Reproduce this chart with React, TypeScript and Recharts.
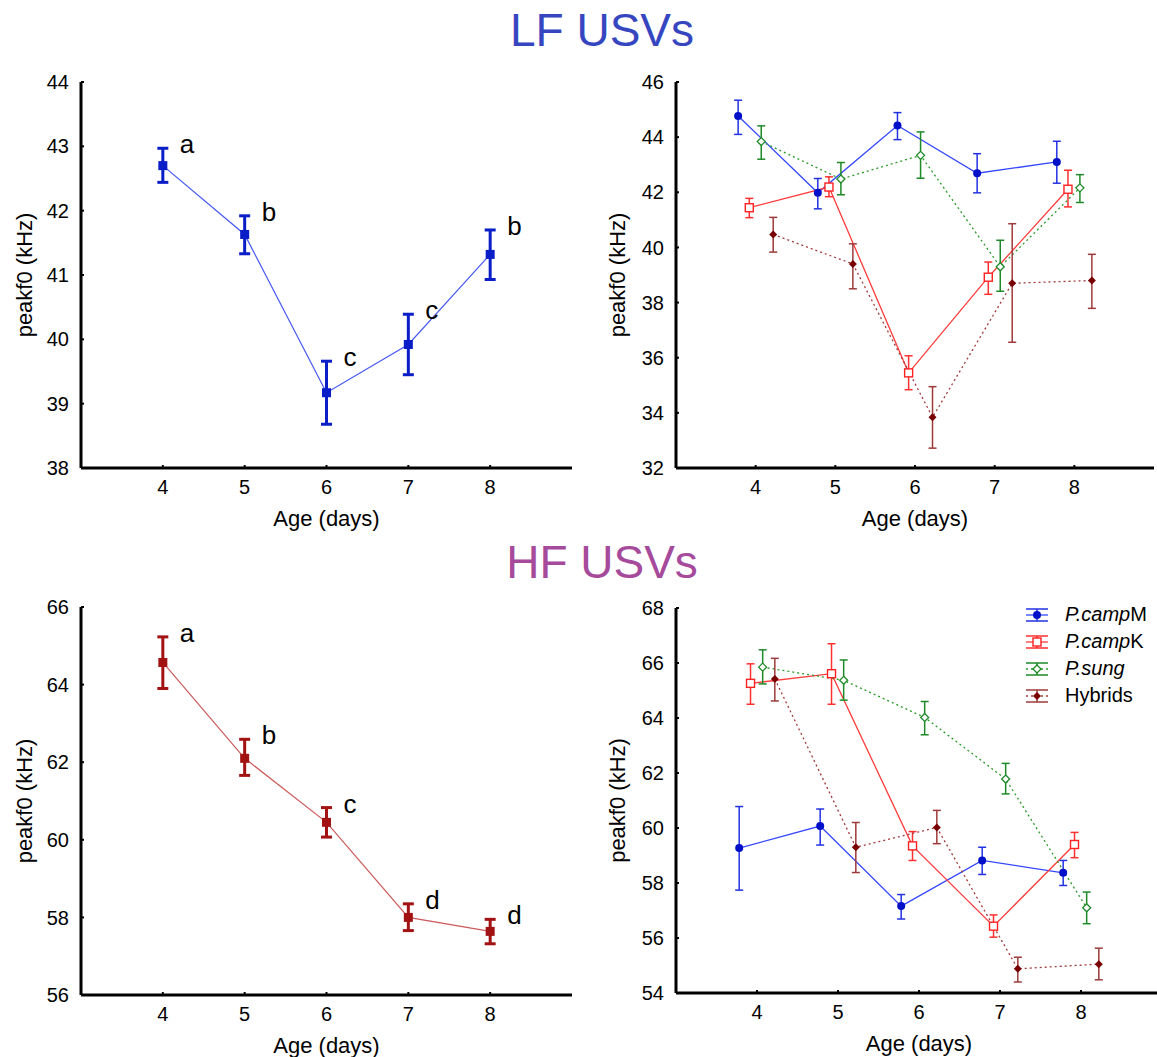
import React from "react";
import { LineChart, Line, XAxis, YAxis, ErrorBar, LabelList, Legend } from "recharts";

const FONT = "Arial, 'Liberation Sans', Helvetica, sans-serif";

// ages (days) and axis ticks
const ages = [4, 5, 6, 7, 8];
const lfTicks = [38, 39, 40, 41, 42, 43, 44];
const lfGroupTicks = [32, 34, 36, 38, 40, 42, 44, 46];
const hfTicks = [56, 58, 60, 62, 64, 66];
const hfGroupTicks = [54, 56, 58, 60, 62, 64, 66, 68];

// LF USVs, all pups pooled
const lfMean = [42.7, 41.63, 39.17, 39.92, 41.32];
const lfHi = [42.97, 41.92, 39.66, 40.39, 41.7];
const lfLo = [42.44, 41.33, 38.68, 39.45, 40.93];
const lfLetters = ["a", "b", "c", "c", "b"];

// HF USVs, all pups pooled
const hfMean = [64.57, 62.1, 60.45, 58.0, 57.64];
const hfHi = [65.23, 62.59, 60.83, 58.35, 57.95];
const hfLo = [63.9, 61.66, 60.07, 57.66, 57.32];
const hfLetters = ["a", "b", "c", "d", "d"];

// LF USVs by group
const lfCampMMean = [44.77, 41.98, 44.42, 42.69, 43.1];
const lfCampMHi = [45.34, 42.5, 44.89, 43.4, 43.85];
const lfCampMLo = [44.1, 41.4, 43.91, 41.98, 42.33];
const lfCampKMean = [41.44, 42.19, 35.45, 38.92, 42.11];
const lfCampKHi = [41.78, 42.56, 36.07, 39.47, 42.8];
const lfCampKLo = [41.08, 41.84, 34.84, 38.3, 41.47];
const lfSungMean = [43.84, 42.48, 43.34, 39.3, 42.16];
const lfSungHi = [44.41, 43.08, 44.19, 40.26, 42.64];
const lfSungLo = [43.2, 41.91, 42.51, 38.41, 41.63];
const lfHybMean = [40.47, 39.4, 33.84, 38.7, 38.8];
const lfHybHi = [41.09, 40.13, 34.95, 40.86, 39.75];
const lfHybLo = [39.83, 38.5, 32.72, 36.56, 37.79];

// HF USVs by group
const hfCampMMean = [59.27, 60.07, 57.16, 58.82, 58.37];
const hfCampMHi = [60.78, 60.69, 57.58, 59.3, 58.82];
const hfCampMLo = [57.74, 59.38, 56.69, 58.31, 57.91];
const hfCampKMean = [65.26, 65.61, 59.35, 56.43, 59.4];
const hfCampKHi = [65.97, 66.7, 59.87, 56.84, 59.84];
const hfCampKLo = [64.5, 64.5, 58.82, 56.03, 58.92];
const hfSungMean = [65.85, 65.37, 64.02, 61.78, 57.1];
const hfSungHi = [66.48, 66.11, 64.6, 62.35, 57.67];
const hfSungLo = [65.24, 64.65, 63.39, 61.24, 56.52];
const hfHybMean = [65.42, 59.3, 60.02, 54.88, 55.05];
const hfHybHi = [66.17, 60.2, 60.64, 55.3, 55.63];
const hfHybLo = [64.62, 58.38, 59.43, 54.4, 54.48];

// horizontal dodge of each group around the age value
const dodge = { campM: -0.22, campK: -0.08, sung: 0.07, hyb: 0.22 };

type Pt = { x: number; y: number; err: [number, number]; hi: number; letter?: string };

function points(mean: number[], hi: number[], lo: number[], shift = 0, letters?: string[]): Pt[] {
  return ages.map((a, i) => ({
    x: a + shift,
    y: mean[i],
    err: [mean[i] - lo[i], hi[i] - mean[i]],
    hi: hi[i],
    letter: letters ? letters[i] : undefined,
  }));
}

type Kind = "square" | "circle" | "openSquare" | "openDiamond" | "diamond";

function Marker({ cx, cy, kind, color, size }: { cx: number; cy: number; kind: Kind; color: string; size: number }) {
  const h = size / 2;
  if (cx == null || cy == null) return null;
  switch (kind) {
    case "square":
      return <rect x={cx - h} y={cy - h} width={size} height={size} fill={color} />;
    case "openSquare":
      return <rect x={cx - h} y={cy - h} width={size} height={size} fill="#fff" stroke={color} strokeWidth={1.4} />;
    case "circle":
      return <circle cx={cx} cy={cy} r={h} fill={color} />;
    case "openDiamond":
      return (
        <polygon
          points={`${cx},${cy - h} ${cx + h},${cy} ${cx},${cy + h} ${cx - h},${cy}`}
          fill="#fff"
          stroke={color}
          strokeWidth={1.3}
        />
      );
    default:
      return <polygon points={`${cx},${cy - h} ${cx + h},${cy} ${cx},${cy + h} ${cx - h},${cy}`} fill={color} />;
  }
}

type SeriesDef = {
  id: string;
  label?: React.ReactNode;
  points: Pt[];
  line: string;
  mark: string;
  err: string;
  kind: Kind;
  size: number;
  lineWidth: number;
  dash?: string;
  errWidth: number;
  cap: number;
};

const lfBlue = { line: "#4658f2", mark: "#0a1ec8", err: "#0a1ec8", kind: "square" as Kind, size: 9, lineWidth: 1.2, errWidth: 3, cap: 5.5 };
const hfRed = { line: "#cc5a5a", mark: "#a31212", err: "#a31212", kind: "square" as Kind, size: 9, lineWidth: 1.2, errWidth: 3, cap: 5.5 };

const campMStyle = { line: "#3548ff", mark: "#0010c8", err: "#2232e2", kind: "circle" as Kind, size: 8, lineWidth: 1.3, errWidth: 1.5, cap: 4 };
const campKStyle = { line: "#ff3b3b", mark: "#ff2020", err: "#ff3030", kind: "openSquare" as Kind, size: 8, lineWidth: 1.3, errWidth: 1.5, cap: 4 };
const sungStyle = { line: "#2a9a2a", mark: "#1f8a2a", err: "#1e8a28", kind: "openDiamond" as Kind, size: 8, lineWidth: 1.3, dash: "2 3", errWidth: 1.5, cap: 4 };
const hybStyle = { line: "#a33a3a", mark: "#780000", err: "#9e3a3a", kind: "diamond" as Kind, size: 8, lineWidth: 1.3, dash: "2 3", errWidth: 1.5, cap: 4 };

const campMLabel = (
  <>
    <i>P.camp</i>M
  </>
);
const campKLabel = (
  <>
    <i>P.camp</i>K
  </>
);
const sungLabel = <i>P.sung</i>;

const lfGroups: SeriesDef[] = [
  { id: "campM", ...campMStyle, points: points(lfCampMMean, lfCampMHi, lfCampMLo, dodge.campM) },
  { id: "campK", ...campKStyle, points: points(lfCampKMean, lfCampKHi, lfCampKLo, dodge.campK) },
  { id: "sung", ...sungStyle, points: points(lfSungMean, lfSungHi, lfSungLo, dodge.sung) },
  { id: "hyb", ...hybStyle, points: points(lfHybMean, lfHybHi, lfHybLo, dodge.hyb) },
];

const hfGroups: SeriesDef[] = [
  { id: "campM", label: campMLabel, ...campMStyle, points: points(hfCampMMean, hfCampMHi, hfCampMLo, dodge.campM) },
  { id: "campK", label: campKLabel, ...campKStyle, points: points(hfCampKMean, hfCampKHi, hfCampKLo, dodge.campK) },
  { id: "sung", label: sungLabel, ...sungStyle, points: points(hfSungMean, hfSungHi, hfSungLo, dodge.sung) },
  { id: "hyb", label: "Hybrids", ...hybStyle, points: points(hfHybMean, hfHybHi, hfHybLo, dodge.hyb) },
];

const lfPooled: SeriesDef[] = [{ id: "lf", ...lfBlue, points: points(lfMean, lfHi, lfLo, 0, lfLetters) }];
const hfPooled: SeriesDef[] = [{ id: "hf", ...hfRed, points: points(hfMean, hfHi, hfLo, 0, hfLetters) }];

function LetterLabel(props: any) {
  const { x, y, value } = props;
  if (!value) return null;
  return (
    <text x={x + 17} y={y + 5} fontSize={26} fontFamily={FONT} fill="#000">
      {value}
    </text>
  );
}

function LegendIcon({ s }: { s: SeriesDef }) {
  return (
    <svg width={26} height={22} style={{ display: "block" }}>
      <line x1={2} x2={24} y1={5} y2={5} stroke={s.err} strokeWidth={1.5} />
      <line x1={2} x2={24} y1={17} y2={17} stroke={s.err} strokeWidth={1.5} />
      <line x1={13} x2={13} y1={5} y2={17} stroke={s.err} strokeWidth={1.5} />
      <line x1={2} x2={24} y1={11} y2={11} stroke={s.line} strokeWidth={1.3} strokeDasharray={s.dash} />
      <Marker cx={13} cy={11} kind={s.kind} color={s.mark} size={s.size} />
    </svg>
  );
}

function GroupLegend() {
  return (
    <div style={{ fontFamily: FONT, fontSize: 20, color: "#000" }}>
      {hfGroups.map((s) => (
        <div key={s.id} style={{ height: 27, display: "flex", alignItems: "center" }}>
          <LegendIcon s={s} />
          <span style={{ marginLeft: 15, whiteSpace: "nowrap" }}>{s.label}</span>
        </div>
      ))}
    </div>
  );
}

type PanelProps = {
  left: number;
  top: number;
  width: number;
  height: number;
  marginTop: number;
  marginRight: number;
  yAxisWidth: number;
  yLabelOffset: number;
  domain: [number, number];
  yTicks: number[];
  series: SeriesDef[];
  letters?: boolean;
  legend?: boolean;
};

function Panel(p: PanelProps) {
  return (
    <div style={{ position: "absolute", left: p.left, top: p.top }}>
      <LineChart width={p.width} height={p.height} margin={{ top: p.marginTop, right: p.marginRight, bottom: 10, left: 0 }}>
        <XAxis
          dataKey="x"
          type="number"
          domain={[3, 9]}
          ticks={ages}
          interval={0}
          allowDataOverflow
          height={62}
          axisLine={{ stroke: "#000", strokeWidth: 3 }}
          tickLine={{ stroke: "#000", strokeWidth: 2 }}
          tickSize={-3}
          tickMargin={15}
          tick={{ fill: "#000", fontSize: 20, fontFamily: FONT }}
          label={{ value: "Age (days)", position: "insideBottom", offset: 4, fill: "#000", fontSize: 22, fontFamily: FONT }}
        />
        <YAxis
          type="number"
          domain={p.domain}
          ticks={p.yTicks}
          interval={0}
          allowDataOverflow
          width={p.yAxisWidth}
          axisLine={{ stroke: "#000", strokeWidth: 3 }}
          tickLine={{ stroke: "#000", strokeWidth: 2 }}
          tickSize={-3}
          tickMargin={15}
          tick={{ fill: "#000", fontSize: 20, fontFamily: FONT }}
          label={{
            value: "peakf0 (kHz)",
            angle: -90,
            position: "insideLeft",
            offset: p.yLabelOffset,
            fill: "#000",
            fontSize: 22,
            fontFamily: FONT,
            style: { textAnchor: "middle" },
          }}
        />
        {p.series.map((s) => (
          <Line
            key={s.id}
            data={s.points}
            dataKey="y"
            type="linear"
            stroke={s.line}
            strokeWidth={s.lineWidth}
            strokeDasharray={s.dash}
            isAnimationActive={false}
            activeDot={false}
            dot={(d: any) => <Marker key={`${s.id}-${d.index}`} cx={d.cx} cy={d.cy} kind={s.kind} color={s.mark} size={s.size} />}
          >
            <ErrorBar dataKey="err" direction="y" width={s.cap} strokeWidth={s.errWidth} stroke={s.err} />
          </Line>
        ))}
        {p.letters &&
          p.series.map((s) => (
            <Line
              key={`${s.id}-letters`}
              data={s.points}
              dataKey="hi"
              stroke="none"
              dot={false}
              activeDot={false}
              legendType="none"
              isAnimationActive={false}
            >
              <LabelList dataKey="letter" content={LetterLabel} />
            </Line>
          ))}
        {p.legend && (
          <Legend
            layout="vertical"
            align="center"
            verticalAlign="middle"
            content={() => <GroupLegend />}
            wrapperStyle={{ left: 444, top: 16, width: 140 }}
          />
        )}
      </LineChart>
    </div>
  );
}

export default function App() {
  return (
    <div
      style={{
        position: "absolute",
        left: 0,
        top: 0,
        width: 1157,
        height: 1057,
        background: "#fff",
        overflow: "hidden",
        fontFamily: FONT,
      }}
    >
      <svg width={1157} height={1057} style={{ position: "absolute", left: 0, top: 0 }}>
        <text x={602} y={46} textAnchor="middle" fontSize={46} fontFamily={FONT} fill="#3646c0">
          LF USVs
        </text>
        <text x={602} y={578} textAnchor="middle" fontSize={46} fontFamily={FONT} fill="#a64a9c">
          HF USVs
        </text>
      </svg>
      <Panel
        left={0}
        top={60}
        width={580}
        height={480}
        marginTop={22}
        marginRight={8}
        yAxisWidth={81}
        yLabelOffset={24}
        domain={[38, 44]}
        yTicks={lfTicks}
        series={lfPooled}
        letters
      />
      <Panel
        left={580}
        top={60}
        width={577}
        height={480}
        marginTop={22}
        marginRight={3}
        yAxisWidth={96}
        yLabelOffset={37}
        domain={[32, 46]}
        yTicks={lfGroupTicks}
        series={lfGroups}
      />
      <Panel
        left={0}
        top={585}
        width={580}
        height={482}
        marginTop={22}
        marginRight={8}
        yAxisWidth={81}
        yLabelOffset={24}
        domain={[56, 66]}
        yTicks={hfTicks}
        series={hfPooled}
        letters
      />
      <Panel
        left={580}
        top={585}
        width={586}
        height={480}
        marginTop={23}
        marginRight={4}
        yAxisWidth={96}
        yLabelOffset={37}
        domain={[54, 68]}
        yTicks={hfGroupTicks}
        series={hfGroups}
        legend
      />
    </div>
  );
}
